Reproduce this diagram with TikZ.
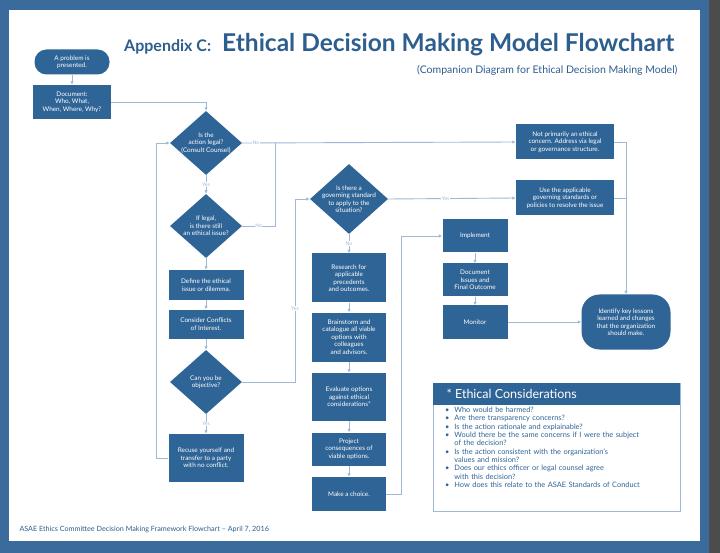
\documentclass[tikz,border=0pt]{standalone}
\usepackage{fontspec}
\setmainfont{Lato}
\usetikzlibrary{shapes.geometric,arrows.meta}
\definecolor{boxc}{HTML}{2F6496}
\definecolor{framec}{HTML}{3A6B9C}
\definecolor{linec}{HTML}{9DB9D6}
\definecolor{titlec}{HTML}{2D5E8E}
\begin{document}
\begin{tikzpicture}[x=1pt,y=-1pt,
 every node/.style={font=\fontsize{6.4}{7.4}\selectfont},
 box/.style={fill=boxc,text=white,align=center,inner sep=1pt},
 dia/.style={diamond,fill=boxc,text=white,align=center,inner sep=-3pt,minimum width=72pt,minimum height=64pt,aspect=1.15},
 conn/.style={draw=linec,line width=0.9pt},
 arr/.style={conn,-{Latex[length=3.5pt,width=3.5pt]}},
 lab/.style={text=linec,font=\fontsize{5}{6}\selectfont,fill=white,inner sep=0.5pt}]
\useasboundingbox (0,0) rectangle (720,553);
\fill[framec] (0,0) rectangle (720,553);
\fill[black!70] (709,0) rectangle (720,553);
\fill[white] (9,10) rectangle (700,541);
% title
\node[anchor=base west,text=titlec,font=\fontsize{16}{18}\selectfont\bfseries,inner sep=0pt] (tA) at (124,52) {Appendix C:};
\node[anchor=base west,text=titlec,font=\fontsize{24.5}{28}\selectfont\bfseries,inner sep=0pt] (tB) at (222,52) {Ethical Decision Making Model Flowchart};
\node[anchor=east,text=titlec,font=\fontsize{10.5}{12}\selectfont] (sub) at (681,70) {(Companion Diagram for Ethical Decision Making Model)};
\node[anchor=west,text=titlec,font=\fontsize{7.2}{8}\selectfont] (foot) at (16,530) {ASAE Ethics Committee Decision Making Framework Flowchart -- April 7, 2016};
% nodes
\node[box,rounded corners=12pt,minimum width=75pt,minimum height=25pt] (prob) at (72,62) {A problem is\\presented.};
\node[box,minimum width=78pt,minimum height=34pt] (doc) at (72,102) {Document:\\Who, What,\\When, Where, Why?};
\node[dia] (d1) at (206,143) {Is the\\action legal?\\(Consult Counsel)};
\node[dia] (d2) at (206,226) {If legal,\\is there still\\an ethical issue?};
\node[box,minimum width=75pt,minimum height=30pt] (def) at (206,285) {Define the ethical\\issue or dilemma.};
\node[box,minimum width=75pt,minimum height=29pt] (coi) at (206,324) {Consider Conflicts\\of Interest.};
\node[dia] (d3) at (206,382) {Can you be\\objective?};
\node[box,minimum width=75pt,minimum height=48pt] (rec) at (206,458) {Recuse yourself and\\transfer to a party\\with no conflict.};
\node[dia,minimum width=78pt,minimum height=70pt] (d4) at (349,199) {Is there a\\governing standard\\to apply to the\\situation?};
\node[box,minimum width=74pt,minimum height=49pt] (res) at (349,278) {Research for\\applicable\\precedents\\and outcomes.};
\node[box,minimum width=74pt,minimum height=49pt] (brain) at (349,337) {Brainstorm and\\catalogue all viable\\options with\\colleagues\\and advisors.};
\node[box,minimum width=74pt,minimum height=48pt] (eval) at (349,397) {Evaluate options\\against ethical\\considerations*};
\node[box,minimum width=74pt,minimum height=33pt] (proj) at (349,449) {Project\\consequences of\\viable options.};
\node[box,minimum width=74pt,minimum height=34pt] (choice) at (349,494) {Make a choice.};
\node[box,minimum width=98pt,minimum height=35pt] (notp) at (565,142) {Not primarily an ethical\\concern. Address via legal\\or governance structure.};
\node[box,minimum width=98pt,minimum height=35pt] (use) at (565,198) {Use the applicable\\governing standards or\\policies to resolve the issue};
\node[box,minimum width=65pt,minimum height=33pt] (impl) at (475,236) {Implement};
\node[box,minimum width=65pt,minimum height=33pt] (docf) at (475,280) {Document\\Issues and\\Final Outcome};
\node[box,minimum width=65pt,minimum height=33pt] (mon) at (475,322) {Monitor};
\node[box,rounded corners=18pt,minimum width=89pt,minimum height=55pt] (iden) at (626,322) {Identify key lessons\\learned and changes\\that the organization\\should make.};
% connectors
\draw[arr] (prob) -- (doc);
\draw[arr] (doc.east) -| (d1.north);
\draw[arr] (d1.east) -- node[lab,pos=0.05]{No} (notp.west);
\draw[arr] (d1.south) -- node[lab]{Yes} (d2.north);
\draw[conn] (d2.east) -- node[lab,pos=0.5]{No} (275,226) -- (275,143);
\draw[arr] (d2.south) -- (def.north);
\draw[arr] (def) -- (coi);
\draw[arr] (coi) -- (d3.north);
\draw[arr] (d3.south) -- node[lab]{Yes} (rec.north);
\coordinate (c3) at (295,382);
\draw[arr] (d3.east) -- (c3) |- node[lab,pos=0.2]{Yes} (d4.west);
\coordinate (cr) at (156,458);
\draw[arr] (rec.west) -- (cr) |- (d1.west);
\draw[arr] (d4.east) -- node[lab,pos=0.45]{Yes} (use.west);
\draw[arr] (d4.south) -- node[lab]{No} (res.north);
\draw[arr] (res) -- (brain);
\draw[arr] (brain) -- (eval);
\draw[arr] (eval) -- (proj);
\draw[arr] (proj) -- (choice);
\coordinate (cc) at (401,494);
\draw[arr] (choice.east) -- (cc) |- (impl.west);
\draw[arr] (impl) -- (docf);
\draw[arr] (docf) -- (mon);
\draw[arr] (mon.east) -- (iden.west);
\draw[arr] (notp.east) -| (iden.north);
\draw[conn] (use.east) -- (626,198);
% considerations
\node[draw=linec,line width=0.8pt,fill=white,anchor=north west,minimum width=247pt,minimum height=128pt] (cons) at (433,383) {};
\node[fill=boxc,anchor=north west,minimum width=247pt,minimum height=22pt] (consh) at (433,383) {};
\node[anchor=west,text=white,font=\fontsize{12.5}{14}\selectfont] (consht) at (443,394) {* Ethical Considerations};
\node[anchor=north west,text=boxc,font=\fontsize{7.4}{8.3}\selectfont,text width=240pt,align=left,inner sep=0pt] (consl) at (445,407) {%
\textbullet\ \ Who would be harmed?\\
\textbullet\ \ Are there transparency concerns?\\
\textbullet\ \ Is the action rationale and explainable?\\
\textbullet\ \ Would there be the same concerns if I were the subject\\
\hphantom{\textbullet\ \ }of the decision?\\
\textbullet\ \ Is the action consistent with the organization's\\
\hphantom{\textbullet\ \ }values and mission?\\
\textbullet\ \ Does our ethics officer or legal counsel agree\\
\hphantom{\textbullet\ \ }with this decision?\\
\textbullet\ \ How does this relate to the ASAE Standards of Conduct};
\end{tikzpicture}
\end{document}
